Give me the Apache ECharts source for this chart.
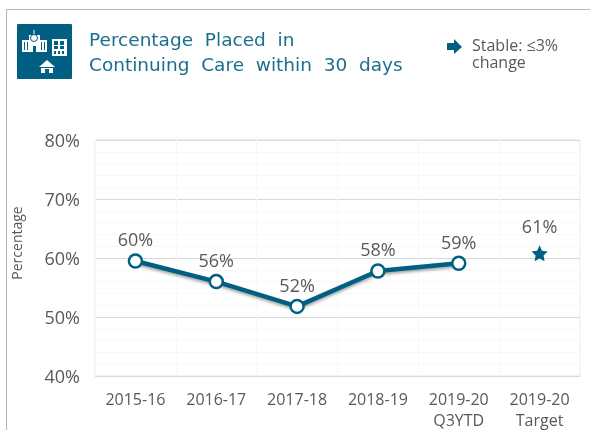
<!DOCTYPE html>
<html>
<head>
<meta charset="utf-8">
<style>
  html, body { margin: 0; padding: 0; background: #fff; }
  #main { width: 590px; height: 430px; }
</style>
<script src="https://cdn.jsdelivr.net/npm/echarts@6/dist/echarts.min.js"></script>
</head>
<body>
<div id="main"></div>
<script>
var categories = ["2015-16", "2016-17", "2017-18", "2018-19", "2019-20\nQ3YTD", "2019-20\nTarget"];
var actualValues = [59.5, 56, 51.8, 57.8, 59.1, null];
var targetValues = [null, null, null, null, null, 60.8];
var actualLabels = ["60%", "56%", "52%", "58%", "59%", ""];
var targetLabels = ["", "", "", "", "", "61%"];

var teal = "#005f83";
var grey = "#595959";
var font = "Open Sans";
var starPath = "path://M50 0L65 33L100 38L75 62L81 97L50 80L19 97L25 62L0 38L35 33Z";

var myChart = echarts.init(document.getElementById("main"));

function box(x, y, w, h, fill) {
  return { type: "rect", shape: { x: x, y: y, width: w, height: h }, style: { fill: fill || "#fff" } };
}

// hospital, office block and small house on the icon tile
var iconParts = [
  box(22, 40, 8, 12), box(39, 40, 8, 12), box(29, 35, 11, 17),
  box(33.5, 30, 1, 4),
  { type: "circle", shape: { cx: 34, cy: 38, r: 3.5 }, style: { fill: "#fff", stroke: teal, lineWidth: 1 } },
  box(33, 46, 3, 6, teal),
  box(24, 42, 1, 8, teal), box(27, 42, 1, 8, teal), box(41, 42, 1, 8, teal), box(44, 42, 1, 8, teal),
  box(52, 39, 15, 17),
  box(54, 41, 4, 4, teal), box(60, 41, 4, 4, teal),
  box(54, 46, 4, 3, teal), box(60, 46, 4, 3, teal),
  box(54, 51, 2, 3, teal), box(58, 51, 2, 3, teal), box(62, 51, 2, 3, teal),
  { type: "polygon", shape: { points: [[47, 60], [55, 67], [39, 67]] }, style: { fill: "#fff" } },
  box(41, 68, 12, 5),
  box(45, 69, 4, 4, teal)
];

var graphics = [
  { type: "line", shape: { x1: 6.5, y1: 9.5, x2: 590, y2: 9.5 }, style: { stroke: "#b5b5b5", lineWidth: 1 } },
  { type: "line", shape: { x1: 6.5, y1: 9.5, x2: 6.5, y2: 430 }, style: { stroke: "#b5b5b5", lineWidth: 1 } },
  { type: "rect", shape: { x: 17, y: 24, width: 55, height: 55, r: 1 }, style: { fill: teal } },
  { type: "text", left: 89, top: 29, style: { text: "Percentage  Placed  in\nContinuing  Care  within  30  days", fill: "#1a6f8e", font: "18.5px 'DejaVu Sans'", lineHeight: 25 } },
  { type: "polygon", shape: { points: [[447, 43], [454, 43], [454, 39], [462, 47], [454, 54], [454, 50], [447, 50]] }, style: { fill: teal } },
  { type: "text", left: 472, top: 38, style: { text: "Stable: ≤3%\nchange", fill: grey, font: "16px " + font, lineHeight: 17 } }
].concat(iconParts);

var option = {
  animation: false,
  grid: { left: 95, right: 10, top: 140, bottom: 54, outerBoundsMode: "none", show: true, borderColor: "#e4e4e4", borderWidth: 1 },
  graphic: graphics,
  xAxis: {
    type: "category",
    data: categories,
    axisLine: { show: false },
    axisTick: { show: false },
    splitLine: { show: true, lineStyle: { color: "#f8f8f8" } },
    axisLabel: { color: grey, fontFamily: font, fontSize: 16, lineHeight: 21, margin: 14, interval: 0 }
  },
  yAxis: {
    type: "value",
    min: 40,
    max: 80,
    interval: 10,
    name: "Percentage",
    nameLocation: "middle",
    nameGap: 70,
    nameTextStyle: { color: grey, fontFamily: font, fontSize: 14, padding: [0, 0, 0, 30] },
    axisLine: { show: false },
    axisTick: { show: false },
    axisLabel: {
      margin: 15,
      formatter: "{pct|{value}%}",
      rich: { pct: { color: grey, fontFamily: font, fontSize: 18, padding: [4, 0, 0, 0] } }
    },
    splitLine: { show: true, lineStyle: { color: "#d9d9d9" } },
    minorSplitLine: { show: true, lineStyle: { color: "#f8f8f8" } },
    minorTick: { show: false, splitNumber: 5 }
  },
  series: [
    {
      name: "Actual",
      type: "line",
      data: actualValues,
      symbol: "circle",
      symbolSize: 13,
      lineStyle: { color: teal, width: 4.5, shadowColor: "rgba(0,0,0,0.35)", shadowBlur: 3, shadowOffsetY: 2 },
      itemStyle: { color: "#fff", borderColor: teal, borderWidth: 2.5 },
      label: {
        show: true, position: "top", distance: 3, color: grey, fontFamily: font, fontSize: 18,
        formatter: function (p) { return actualLabels[p.dataIndex]; }
      }
    },
    {
      name: "Target",
      type: "line",
      data: targetValues,
      symbol: starPath,
      symbolSize: 16,
      lineStyle: { width: 0 },
      itemStyle: { color: teal },
      label: {
        show: true, position: "top", distance: 8, color: grey, fontFamily: font, fontSize: 18,
        formatter: function (p) { return targetLabels[p.dataIndex]; }
      }
    }
  ]
};
myChart.setOption(option);
</script>
</body>
</html>
